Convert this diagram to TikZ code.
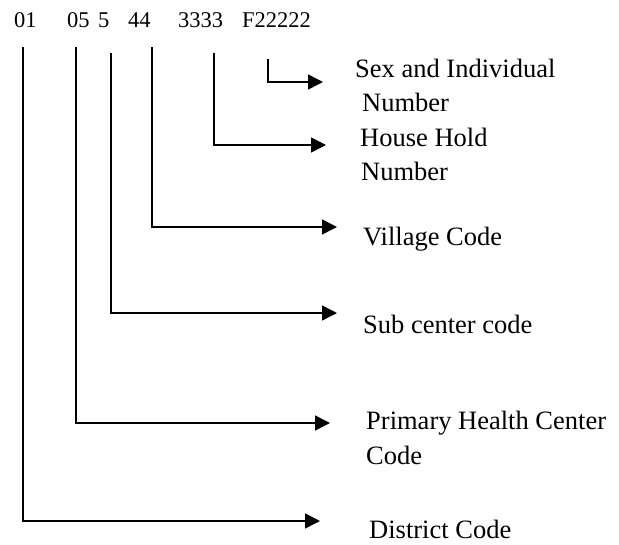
\documentclass[tikz,border=0pt]{standalone}
\usepackage{fontspec}
\setmainfont{Liberation Serif}
\usetikzlibrary{arrows.meta}
\begin{document}
\begin{tikzpicture}[x=1pt,y=-1pt,
  code/.style={anchor=base west,inner sep=0pt,font=\fontsize{22.5}{27}\selectfont},
  lbl/.style={anchor=base west,inner sep=0pt,font=\fontsize{26.5}{34}\selectfont,align=left},
  conn/.style={line width=1.5pt,-{Triangle[length=15pt,width=15pt]}}]
\useasboundingbox (0,0) rectangle (619,544);
% code groups
\node[code] (c01) at (14,27) {01};
\node[code] (c05) at (67,27) {05};
\node[code] (c5) at (98,27) {5};
\node[code] (c44) at (128,27) {44};
\node[code] (c3333) at (178,27) {3333};
\node[code] (cF) at (242,27) {F22222};
% labels
\node[lbl] (sex) at (355,77) {Sex and Individual};
\node[lbl] (sexn) at (362,111) {Number};
\node[lbl] (hh) at (360,146) {House Hold};
\node[lbl] (hhn) at (361,180) {Number};
\node[lbl] (vil) at (363,245) {Village Code};
\node[lbl] (sub) at (363,333) {Sub center code};
\node[lbl] (phc) at (366,429) {Primary Health Center};
\node[lbl] (phcc) at (366,464) {Code};
\node[lbl] (dist) at (369,538) {District Code};
% connector ends
\coordinate (t01) at (23,47);   \coordinate (e01) at (320,521);
\coordinate (t05) at (76,47);   \coordinate (e05) at (330,423);
\coordinate (t5) at (111,53);   \coordinate (e5) at (337,313);
\coordinate (t44) at (152,47);  \coordinate (e44) at (337,227);
\coordinate (t33) at (214,53);  \coordinate (e33) at (326,145);
\coordinate (tF) at (268,59);   \coordinate (eF) at (323,82);
\draw[conn] (t01) |- (e01);
\draw[conn] (t05) |- (e05);
\draw[conn] (t5) |- (e5);
\draw[conn] (t44) |- (e44);
\draw[conn] (t33) |- (e33);
\draw[conn] (tF) |- (eF);
\end{tikzpicture}
\end{document}
